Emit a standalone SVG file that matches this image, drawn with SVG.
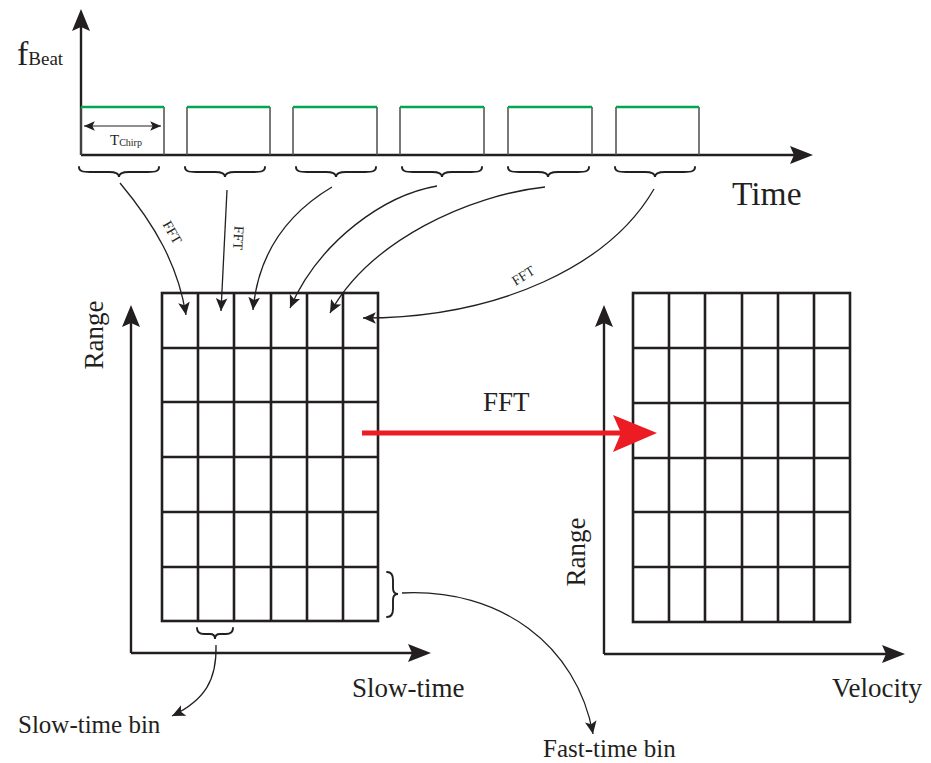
<svg xmlns="http://www.w3.org/2000/svg" width="931" height="763" viewBox="0 0 931 763">
<style>
text{font-family:"Liberation Serif","Times New Roman",serif;fill:#231F20}
.ax{stroke:#231F20;stroke-width:2.4;fill:none}
.ah{fill:#231F20;stroke:none}
.grid{stroke:#231F20;stroke-width:2.6;fill:none}
.box{stroke:#4d4d4d;stroke-width:1.5;fill:none}
.green{stroke:#00A651;stroke-width:2.6}
.brace{stroke:#231F20;stroke-width:1.9;fill:none;stroke-linecap:round}
.conn{stroke:#231F20;stroke-width:1.3;fill:none;marker-end:url(#sa)}
</style>
<defs>
<marker id="sa" markerUnits="userSpaceOnUse" markerWidth="14" markerHeight="12" refX="11" refY="5" orient="auto" viewBox="0 0 12 10">
<path d="M0,0 L11,5 L0,10 L2.5,5 Z" fill="#231F20"/>
</marker>
<marker id="ta" markerUnits="userSpaceOnUse" markerWidth="12" markerHeight="10" refX="9" refY="4" orient="auto-start-reverse" viewBox="0 0 10 8">
<path d="M0,0 L9,4 L0,8 L2,4 Z" fill="#231F20"/>
</marker>
</defs>

<g id="beat-chart">
<line class="ax" x1="81" y1="155" x2="81" y2="26"/>
<polygon class="ah" points="81,9 90,31 81,27 72,31"/>
<line class="ax" x1="81" y1="155" x2="796" y2="155"/>
<polygon class="ah" points="813,155 790,146 794,155 790,164"/>
<g id="chirps">
<path class="box" d="M81,107 V155 M164,107 V155"/><line class="green" x1="81" y1="107" x2="164" y2="107"/>
<path class="box" d="M187,107 V155 M270,107 V155"/><line class="green" x1="187" y1="107" x2="270" y2="107"/>
<path class="box" d="M293,107 V155 M377,107 V155"/><line class="green" x1="293" y1="107" x2="377" y2="107"/>
<path class="box" d="M400,107 V155 M484,107 V155"/><line class="green" x1="400" y1="107" x2="484" y2="107"/>
<path class="box" d="M508,107 V155 M592,107 V155"/><line class="green" x1="508" y1="107" x2="592" y2="107"/>
<path class="box" d="M616,107 V155 M699,107 V155"/><line class="green" x1="616" y1="107" x2="699" y2="107"/>
</g>
<line x1="84" y1="126" x2="161" y2="126" stroke="#231F20" stroke-width="1.2" marker-start="url(#ta)" marker-end="url(#ta)"/>
<text x="110" y="145" font-size="15">T<tspan font-size="10" dy="1">Chirp</tspan></text>
<text x="17" y="65" font-size="34">f<tspan font-size="19">Beat</tspan></text>
<text x="732" y="205" font-size="33.5">Time</text>
<g id="braces">
<path class="brace" d="M79,167 C79,171 82,172 90,172 L109,172 C115,172 119,173 119,177 C119,173 123,172 129,172 L148,172 C156,172 159,171 159,167"/>
<path class="brace" d="M185,167 C185,171 188,172 196,172 L215,172 C221,172 225,173 225,177 C225,173 229,172 235,172 L254,172 C262,172 265,171 265,167"/>
<path class="brace" d="M296,167 C296,171 299,172 307,172 L326,172 C332,172 336,173 336,177 C336,173 340,172 346,172 L365,172 C373,172 376,171 376,167"/>
<path class="brace" d="M402,167 C402,171 405,172 413,172 L432,172 C438,172 442,173 442,177 C442,173 446,172 452,172 L471,172 C479,172 482,171 482,167"/>
<path class="brace" d="M508,167 C508,171 511,172 519,172 L538,172 C544,172 548,173 548,177 C548,173 552,172 558,172 L578,172 C586,172 589,171 589,167"/>
<path class="brace" d="M615,167 C615,171 618,172 626,172 L645,172 C651,172 655,173 655,177 C655,173 659,172 665,172 L684,172 C692,172 695,171 695,167"/>
</g>
</g>

<g id="range-slowtime-grid">
<rect class="grid" x="162" y="293" width="216" height="328"/>
<path class="grid" d="M198,293 V621 M234,293 V621 M271,293 V621 M307,293 V621 M343,293 V621 M162,348 H378 M162,402 H378 M162,457 H378 M162,512 H378 M162,567 H378"/>
<line class="ax" x1="131" y1="653" x2="131" y2="322"/>
<polygon class="ah" points="131,305 140,327 131,323 122,327"/>
<line class="ax" x1="131" y1="653" x2="413" y2="653"/>
<polygon class="ah" points="431,653 408,644 412,653 408,662"/>
<text transform="translate(103,335) rotate(-90)" font-size="27" text-anchor="middle">Range</text>
<text x="352" y="697" font-size="27">Slow-time</text>
<path class="brace" d="M197,628 C197,632 199,634 204,634 L210,634 C213,634 215,635 215,639 C215,635 217,634 220,634 L226,634 C231,634 233,632 233,628"/>
<path class="brace" d="M387,572 C391,572 393,574 393,580 L393,588 C393,592 394,594 398,594 C394,594 393,596 393,600 L393,609 C393,615 391,617 387,617"/>
</g>

<g id="range-velocity-grid">
<rect class="grid" x="633" y="293" width="217" height="329"/>
<path class="grid" d="M669,293 V622 M705,293 V622 M742,293 V622 M778,293 V622 M814,293 V622 M633,348 H850 M633,403 H850 M633,458 H850 M633,512 H850 M633,567 H850"/>
<line class="ax" x1="604" y1="654" x2="604" y2="322"/>
<polygon class="ah" points="604,305 613,327 604,323 595,327"/>
<line class="ax" x1="604" y1="654" x2="887" y2="654"/>
<polygon class="ah" points="905,654 882,645 886,654 882,663"/>
<text transform="translate(585,552) rotate(-90)" font-size="27" text-anchor="middle">Range</text>
<text x="832" y="697" font-size="27">Velocity</text>
</g>

<g id="slow-time-bin-label"><text x="18" y="733" font-size="25">Slow-time bin</text></g>
<g id="fast-time-bin-label"><text x="543" y="757" font-size="25">Fast-time bin</text></g>

<g id="connectors">
<path class="conn" d="M120,183 C155,225 178,265 186,315"/>
<path class="conn" d="M227,190 C225,230 223,270 221,311"/>
<path class="conn" d="M332,187 C285,215 258,255 253,310"/>
<path class="conn" d="M437,186 C385,195 320,240 290,308"/>
<path class="conn" d="M545,187 C470,195 370,240 330,313"/>
<path class="conn" d="M654,189 C610,265 500,318 363,318"/>
<path class="conn" d="M216,645 C217,680 205,700 172,716"/>
<path class="conn" d="M402,593 C500,588 577,645 593,734"/>
<text transform="translate(171,233) rotate(60)" font-size="14" text-anchor="middle" dominant-baseline="middle">FFT</text>
<text transform="translate(237,238) rotate(93)" font-size="14" text-anchor="middle" dominant-baseline="middle">FFT</text>
<text transform="translate(524,277) rotate(-32)" font-size="14" text-anchor="middle" dominant-baseline="middle">FFT</text>
<g id="fft-red">
<line x1="362" y1="433" x2="622" y2="433" stroke="#ED1C24" stroke-width="5"/>
<polygon points="657,433 613,415 621,433 613,452" fill="#ED1C24"/>
<text x="483" y="411" font-size="27">FFT</text>
</g>
</g>
</svg>
